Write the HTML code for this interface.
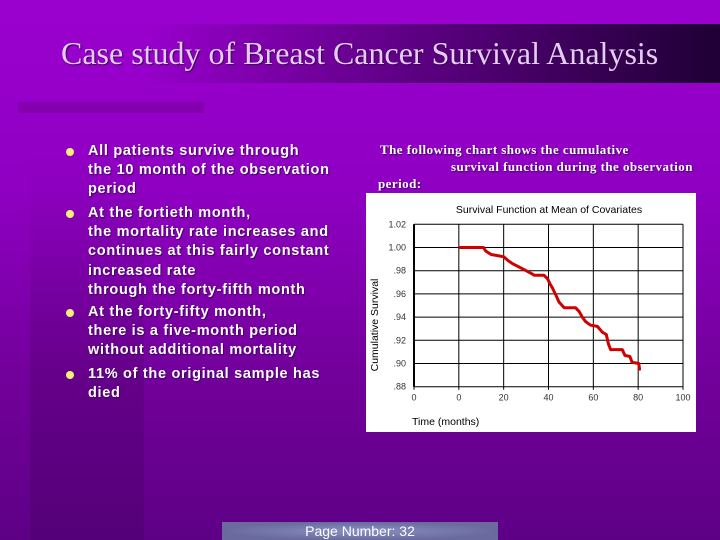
<!DOCTYPE html>
<html><head><meta charset="utf-8"><style>
body{margin:0;width:720px;height:540px;overflow:hidden;position:relative;font-family:"Liberation Sans",sans-serif;
background:linear-gradient(180deg,#9b00cf 0%,#8f00c2 35%,#72009a 70%,#5e0086 100%);}
.abs{position:absolute}
#band{left:0;top:24px;width:720px;height:59px;background:linear-gradient(90deg,rgba(0,0,0,0) 20%,rgba(60,0,90,0.6) 55%,#1e0034 100%);}
#title{left:61px;top:35px;font-family:"Liberation Serif",serif;font-size:32px;color:#e4cdf2;white-space:nowrap;text-shadow:1px 1px 1px #3a0050;}
#bar{left:18px;top:102px;width:186px;height:11px;background:#8400ae;}
#col{left:30px;top:150px;width:114px;height:390px;background:linear-gradient(180deg,rgba(0,0,0,0),rgba(40,0,60,0.18) 60%);}
.li{position:absolute;left:88px;font-weight:bold;font-size:14.5px;letter-spacing:0.7px;color:#fff;line-height:19.2px;text-shadow:1px 1px 1px #400060;white-space:nowrap}
.dot{position:absolute;left:66px;width:8px;height:8px;border-radius:50%;background:#f6f07a}
.rt{position:absolute;font-family:"Liberation Serif",serif;font-weight:bold;font-size:13px;letter-spacing:0.45px;color:#fff;white-space:nowrap;text-shadow:1px 1px 1px #400060}
#page{left:222px;top:522px;width:276px;height:18px;background:radial-gradient(ellipse at center,#8a90c0 0%,#6a6a9e 70%);color:#fff;font-size:14px;text-align:center;line-height:18px}
</style></head><body>
<div class="abs" id="band"></div>
<div class="abs" id="title">Case study of Breast Cancer Survival Analysis</div>
<div class="abs" id="bar"></div>
<div class="abs" id="col"></div>

<div>
<div class="dot" style="top:148px"></div>
<div class="li" style="top:142px">All patients survive through<br>the 10 month of the observation<br>period</div>
<div class="dot" style="top:210px"></div>
<div class="li" style="top:204px">At the fortieth month,<br>the mortality rate increases and<br>continues at this fairly constant<br>increased rate<br>through the forty-fifth month</div>
<div class="dot" style="top:309px"></div>
<div class="li" style="top:303px">At the forty-fifty month,<br>there is a five-month period<br>without additional mortality</div>
<div class="dot" style="top:371px"></div>
<div class="li" style="top:365px">11% of the original sample has<br>died</div>
</div>

<div class="rt" style="left:380px;top:142px">The following chart shows the cumulative</div>
<div class="rt" style="left:451px;top:159px">survival function during the observation</div>
<div class="rt" style="left:378px;top:176px">period:</div>

<svg class="abs" style="left:366px;top:193px" width="330" height="239">
<rect x="0" y="0" width="330" height="239" fill="#fff"/>
<g id="g"></g>
</svg>

<div class="abs" id="page">Page Number: 32</div>

<script>
const xTicks=[-20,0,20,40,60,80,100];
const xTickLabels=["0","0","20","40","60","80","100"];
const yTicks=[0.88,0.90,0.92,0.94,0.96,0.98,1.00,1.02];
const yTickLabels=[".88",".90",".92",".94",".96",".98","1.00","1.02"];
const months=[0,11,12,14.4,17.3,20,21.8,24,27,30,32.9,33.6,38,39.6,40.6,41.8,43.3,44.7,47,52.1,53.6,55.1,56.6,58.8,61.8,64,65.8,66.7,67.7,72.9,74.1,76.3,77.3,80.3,80.7];
const survival=[1.00,1.00,0.997,0.994,0.993,0.992,0.989,0.986,0.983,0.980,0.977,0.976,0.976,0.973,0.969,0.965,0.959,0.953,0.948,0.948,0.945,0.940,0.936,0.933,0.932,0.927,0.925,0.917,0.912,0.912,0.907,0.906,0.901,0.900,0.894];
const NS='http://www.w3.org/2000/svg';
const g=document.getElementById('g');
const X0=48,X1=317,Y0=193.7,Y1=31.3;
const xs=v=>X0+(v+20)/120*(X1-X0);
const ys=v=>Y0-(v-0.88)/0.14*(Y0-Y1);
function mk(t,a){const e=document.createElementNS(NS,t);for(const k in a)e.setAttribute(k,a[k]);g.appendChild(e);return e;}
yTicks.forEach((v,i)=>{
 const l=mk('line',{x1:X0,x2:X1,y1:ys(v),y2:ys(v),stroke:'#000','stroke-width':1});
 
 
 const t=mk('text',{x:X0-8,y:ys(v)+3,'text-anchor':'end','font-size':9,fill:'#333','font-family':'Liberation Sans, sans-serif'});
 t.textContent=yTickLabels[i];
 
 
});
xTicks.forEach((v,i)=>{
 const l=mk('line',{x1:xs(v),x2:xs(v),y1:Y1,y2:Y0+3,stroke:'#000','stroke-width':1});
 
 
 const t=mk('text',{x:xs(v),y:Y0+14,'text-anchor':'middle','font-size':9,fill:'#333','font-family':'Liberation Sans, sans-serif'});
 t.textContent=xTickLabels[i];
 
 
});
const ax=mk('line',{x1:X0,x2:X0,y1:Y1,y2:Y0,stroke:'#000','stroke-width':2});


const pts=months.map((m,i)=>xs(m).toFixed(1)+','+ys(survival[i]).toFixed(1)).join(' ');
const pl=mk('polyline',{points:pts,fill:'none',stroke:'#d00000','stroke-width':3,'stroke-linejoin':'round'});


const tt=mk('text',{x:183,y:20,'text-anchor':'middle','font-size':10.5,fill:'#000','font-family':'Liberation Sans, sans-serif'});
tt.textContent='Survival Function at Mean of Covariates';


const xt=mk('text',{x:46,y:232,'font-size':10.5,fill:'#000','font-family':'Liberation Sans, sans-serif'});
xt.textContent='Time (months)';


const yt=mk('text',{x:0,y:0,'text-anchor':'middle','font-size':10.5,fill:'#000','font-family':'Liberation Sans, sans-serif',transform:'translate(12,132) rotate(-90)'});
yt.textContent='Cumulative Survival';


</script>
</body></html>
